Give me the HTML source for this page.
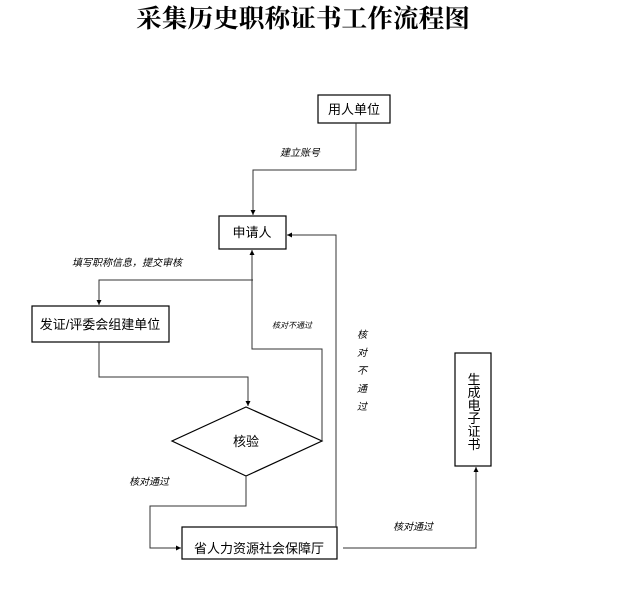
<!DOCTYPE html>
<html><head><meta charset="utf-8"><style>
body{margin:0;background:#fff;}
svg{display:block;}
text{font-family:"Liberation Sans","Noto Sans CJK SC",sans-serif;fill:#000;}
.i{font-style:italic;font-size:10px;}
</style></head><body>
<svg width="617" height="615" viewBox="0 0 617 615" xmlns="http://www.w3.org/2000/svg">
<defs><marker id="a" markerWidth="6" markerHeight="6" refX="5" refY="3" orient="auto" markerUnits="userSpaceOnUse"><path d="M0,0.5 L5,3 L0,5.5 Z" fill="#000"/></marker></defs>
<text x="303" y="27" text-anchor="middle" textLength="334" lengthAdjust="spacingAndGlyphs" style="font-family:'Liberation Serif','Noto Serif CJK SC',serif;font-weight:bold;font-size:25px;">采集历史职称证书工作流程图</text>
<g fill="none" stroke="#000" stroke-width="1.2">
<rect x="318" y="95" width="72" height="28"/>
<rect x="219" y="216" width="67" height="33"/>
<rect x="32" y="306" width="137" height="36"/>
<polygon points="246,407 322,441 246,476 172,441"/>
<rect x="182" y="527" width="155" height="32"/>
<rect x="455" y="353" width="36" height="113"/>
</g>
<g fill="none" stroke="#333" stroke-width="1">
<polyline points="356,123 356,170 253,170 253,215" marker-end="url(#a)"/>
<polyline points="253,280 99,280 99,305" marker-end="url(#a)"/>
<polyline points="322,441 322,349 252,349 252,250" marker-end="url(#a)"/>
<polyline points="336,527 336,235 287,235" marker-end="url(#a)"/>
<polyline points="99,342 99,377 248,377 248,406" marker-end="url(#a)"/>
<polyline points="246,476 246,506 150,506 150,548 181,548" marker-end="url(#a)"/>
<polyline points="343,548 476,548 476,467" marker-end="url(#a)"/>
</g>
<text x="354" y="114" text-anchor="middle" font-size="13">用人单位</text>
<text x="252" y="237" text-anchor="middle" font-size="13">申请人</text>
<text x="100" y="329" text-anchor="middle" font-size="13">发证/评委会组建单位</text>
<text x="246" y="446" text-anchor="middle" font-size="13">核验</text>
<text x="259" y="553" text-anchor="middle" font-size="13">省人力资源社会保障厅</text>
<g font-size="13" text-anchor="middle"><text x="474" y="384">生</text><text x="474" y="397">成</text><text x="474" y="410">电</text><text x="474" y="423">子</text><text x="474" y="436">证</text><text x="474" y="449">书</text></g>
<text class="i" x="280" y="156">建立账号</text>
<text class="i" x="72" y="266">填写职称信息，提交审核</text>
<text class="i" x="272" y="328" style="font-size:8px">核对不通过</text>
<text class="i" x="129" y="485">核对通过</text>
<text class="i" x="393" y="530">核对通过</text>
<g class="i" text-anchor="middle"><text x="362" y="338">核</text><text x="362" y="356">对</text><text x="362" y="374">不</text><text x="362" y="392">通</text><text x="362" y="410">过</text></g>
</svg>
</body></html>
